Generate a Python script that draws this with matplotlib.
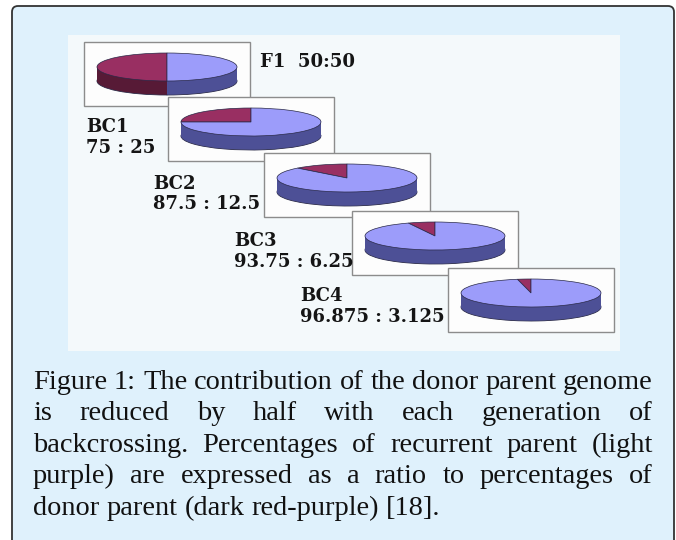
import matplotlib
matplotlib.use("Agg")
import matplotlib.pyplot as plt
from matplotlib.patches import FancyBboxPatch, Rectangle

W, H = 676, 540

# data
generations = ["F1", "BC1", "BC2", "BC3", "BC4"]
recurrent = [50, 75, 87.5, 93.75, 96.875]
donor = [50, 25, 12.5, 6.25, 3.125]
ratio_labels = ["50:50", "75 : 25", "87.5 : 12.5", "93.75 : 6.25", "96.875 : 3.125"]
caption_lines = [
    "Figure 1: The contribution of the donor parent genome",
    "is reduced by half with each generation of",
    "backcrossing. Percentages of recurrent parent (light",
    "purple) are expressed as a ratio to percentages of",
    "donor parent (dark red-purple) [18].",
]

# layout (pixels)
box_pos = [(84, 42), (168, 97), (264, 153), (352, 211), (448, 268)]
box_w, box_h = 166, 64
rx, ry, depth = 70, 14, 14
label_pos = [(260, 67, None), (86, 132, 153), (153, 189, 209), (234, 246, 267), (300, 301, 322)]

top_colors = ["#992f62", "#9c9cfa"]
side_colors = ["#571a36", "#4d5096"]

fig = plt.figure(figsize=(W / 100, H / 100), dpi=100)
ax = fig.add_axes([0, 0, 1, 1])
ax.set_xlim(0, W)
ax.set_ylim(H, 0)
ax.axis("off")

ax.add_patch(FancyBboxPatch((12, 6), 662, 600, boxstyle="round,pad=0,rounding_size=6",
                            fc="#dff1fc", ec="#333333", lw=1.3))
ax.add_patch(Rectangle((68, 35), 552, 316, fc="#f4f9fb", ec="none"))

for i, (bx, by) in enumerate(box_pos):
    ax.add_patch(Rectangle((bx, by), box_w, box_h, fc="#fdfdfd", ec="#8c8c8c", lw=1, zorder=2 + i))

    pax = fig.add_axes([bx / W, 1 - (by + box_h) / H, box_w / W, box_h / H])
    vals = [donor[i], recurrent[i]]
    n = 24
    for k in range(n, 0, -1):
        edge = {"linewidth": 0.6, "edgecolor": "#2a2a48"} if k == n else {"linewidth": 0}
        pax.pie(vals, colors=side_colors, startangle=90, counterclock=True,
                center=(0, -depth / ry * k / n), wedgeprops=edge)
    pax.pie(vals, colors=top_colors, startangle=90, counterclock=True,
            wedgeprops={"linewidth": 0.5, "edgecolor": "#2a2a48"})
    pax.set_aspect("auto")
    pax.set_xlim(-(box_w / 2) / rx, (box_w / 2) / rx)
    pax.set_ylim(-(box_h - 25) / ry, 25 / ry)
    pax.axis("off")

lab_font = dict(family="DejaVu Serif", weight="bold", fontsize=13, color="#151515",
                va="baseline", ha="left")
for i, (lx, b1, b2) in enumerate(label_pos):
    if b2 is None:
        ax.text(lx, b1, generations[i] + "  " + ratio_labels[i], zorder=20, **lab_font)
    else:
        ax.text(lx, b1, generations[i], zorder=20, **lab_font)
        ax.text(lx, b2, ratio_labels[i], zorder=20, **lab_font)

# justified caption
renderer = fig.canvas.get_renderer()
cap_left, cap_right = 33, 653
cap_base = [389, 420, 452, 483, 515]
cap_font = dict(family="Liberation Serif", color="#111111", va="baseline", ha="left")
probe = ax.text(0, 0, caption_lines[0], fontsize=20, **cap_font)
size = 20 * (cap_right - cap_left) / probe.get_window_extent(renderer).width
probe.remove()

for j, line in enumerate(caption_lines):
    words = line.split(" ")
    texts = [ax.text(0, cap_base[j], w, fontsize=size, **cap_font) for w in words]
    widths = [t.get_window_extent(renderer).width for t in texts]
    if j < len(caption_lines) - 1:
        gap = (cap_right - cap_left - sum(widths)) / (len(words) - 1)
    else:
        space = ax.text(0, 0, "a a", fontsize=size, **cap_font)
        aa = ax.text(0, 0, "aa", fontsize=size, **cap_font)
        gap = space.get_window_extent(renderer).width - aa.get_window_extent(renderer).width
        space.remove()
        aa.remove()
    x = cap_left
    for t, w in zip(texts, widths):
        t.set_x(x)
        x += w + gap

fig.savefig("out.png", dpi=100)
